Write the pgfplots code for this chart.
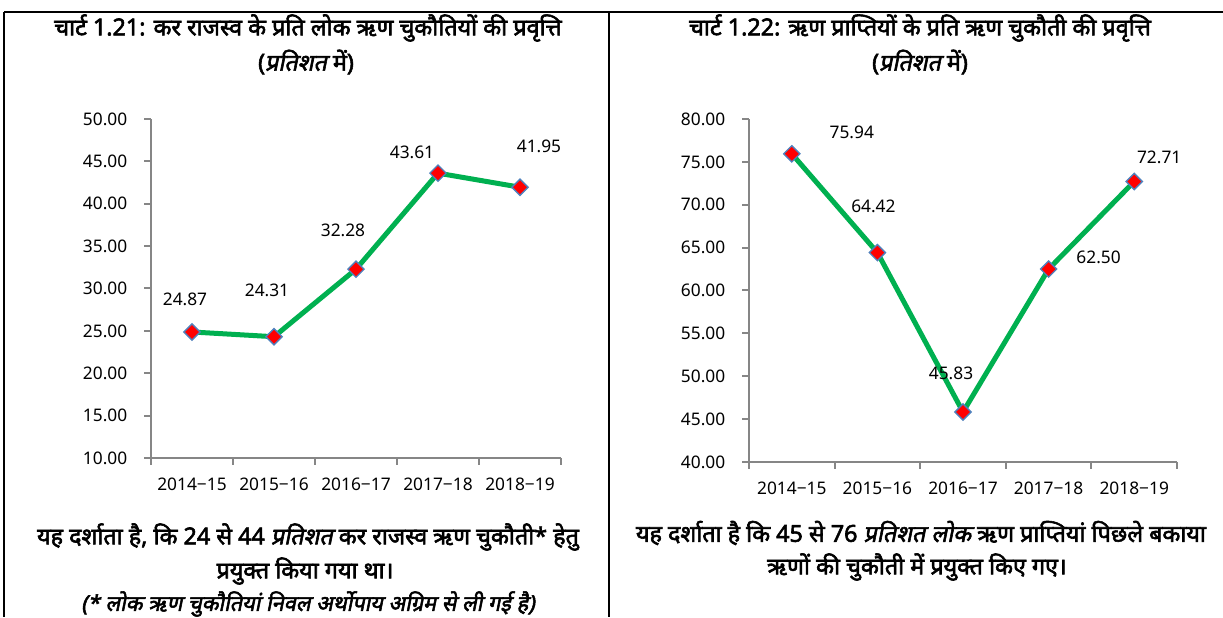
\documentclass[border=0pt]{standalone}
\usepackage{fontspec}
\usepackage{pgfplots}
\pgfplotsset{compat=1.18}
\setmainfont{Noto Sans}
\newfontfamily\hindib[Script=Devanagari,FakeBold=2.5]{Noto Sans}
\newfontfamily\hindibi[Script=Devanagari,FakeBold=2.5,FakeSlant=0.2]{Noto Sans}
\definecolor{axgray}{RGB}{134,134,134}
\definecolor{lgreen}{RGB}{0,176,80}
\definecolor{mblue}{RGB}{79,129,189}
\newcommand\hf{\hindib\fontsize{17.5}{21}\selectfont}
\newcommand\hfi{\hindibi\fontsize{17.5}{21}\selectfont}
\pgfplotsset{
  myax/.style={
    scale only axis,
    axis x line*=bottom, axis y line*=left,
    axis line style={draw=axgray, line width=1.5pt, -},
    xmin=0, xmax=5,
    xtick={0.5,1.5,2.5,3.5,4.5},
    xticklabels={2014−15,2015−16,2016−17,2017−18,2018−19},
    minor xtick={0,1,2,3,4,5},
    every major x tick/.style={draw=none},
    every minor x tick/.style={draw=axgray, line width=1.5pt},
    every major y tick/.style={draw=axgray, line width=1.5pt},
    tick align=outside,
    major tick length=5.25pt, minor tick length=5.25pt,
    ytick distance=5,
    /pgf/number format/assume math mode=true,
    yticklabel={\pgfmathprintnumber[fixed,fixed zerofill,precision=2]{\tick}},
    tick label style={font=\fontsize{13}{15}\selectfont, text=black},
    yticklabel style={xshift=-9pt},
    xticklabel style={yshift=-6pt},
    clip=false,
  },
  myplot/.style={draw=lgreen, line width=3.75pt, mark=square*,
    mark options={rotate=45, fill=red, draw=mblue, line width=1pt, solid}, mark size=4.3pt,
    nodes near coords={\pgfmathprintnumber[fixed,fixed zerofill,precision=2,assume math mode=true]{\pgfplotspointmeta}},
    every node near coord/.style={anchor=center, xshift=\dx*0.75pt, yshift=\dy*0.75pt, font=\fontsize{13}{15}\selectfont, text=black},
  },
}
\begin{document}
\begin{tikzpicture}[x=0.75pt,y=0.75pt]
\useasboundingbox (0,0) rectangle (1223,617);
\draw[line width=1.5pt] (4,605) -- (1223,605);
\draw[line width=1.5pt] (4,605) -- (4,0);
\draw[line width=1.5pt] (609,605) -- (609,0);
% titles
\node[font=\hf] at (308,589) {चार्ट 1.21: कर राजस्व के प्रति लोक ऋण चुकौतियों की प्रवृत्ति};
\node[font=\hf] at (306,555) {({\hfi प्रतिशत} में)};
\node[font=\hf] at (920,589) {चार्ट 1.22: ऋण प्राप्तियों के प्रति ऋण चुकौती की प्रवृत्ति};
\node[font=\hf] at (920,555) {({\hfi प्रतिशत} में)};
% bottom
\node[font=\hf] at (308,80) {यह दर्शाता है, कि 24 से 44 {\hfi प्रतिशत} कर राजस्व ऋण चुकौती* हेतु};
\node[font=\hf] at (305,46) {प्रयुक्त किया गया था।};
\node[font=\hindibi\fontsize{16.3}{19}\selectfont, inner sep=1pt] at (308,13) {(* लोक ऋण चुकौतियां निवल अर्थोपाय अग्रिम से ली गई है)};
\node[font=\hf] at (921,84) {यह दर्शाता है कि 45 से 76 {\hfi प्रतिशत लोक} ऋण प्राप्तियां पिछले बकाया};
\node[font=\hf] at (917,50) {ऋणों की चुकौती में प्रयुक्त किए गए।};
\begin{axis}[myax, at={(113.25pt,119.25pt)}, anchor=south west, width=307.5pt, height=254.25pt, ymin=10, ymax=50]
\addplot[myplot, visualization depends on={value \thisrow{dx}\as\dx}, visualization depends on={value \thisrow{dy}\as\dy}] table[x=x,y=y] {
x y dx dy
0.5 24.87 -7 33
1.5 24.31 -7 46
2.5 32.28 -13 39
3.5 43.61 -26 21
4.5 41.95 19 41
};
\end{axis}
\begin{axis}[myax, at={(561.75pt,116.25pt)}, anchor=south west, width=321pt, height=257.25pt, ymin=40, ymax=80]
\addplot[myplot, visualization depends on={value \thisrow{dx}\as\dx}, visualization depends on={value \thisrow{dy}\as\dy}] table[x=x,y=y] {
x y dx dy
0.5 75.94 60 21
1.5 64.42 -4 46
2.5 45.83 -12 39
3.5 62.50 50 12
4.5 72.71 25 24
};
\end{axis}
\end{tikzpicture}
\end{document}
